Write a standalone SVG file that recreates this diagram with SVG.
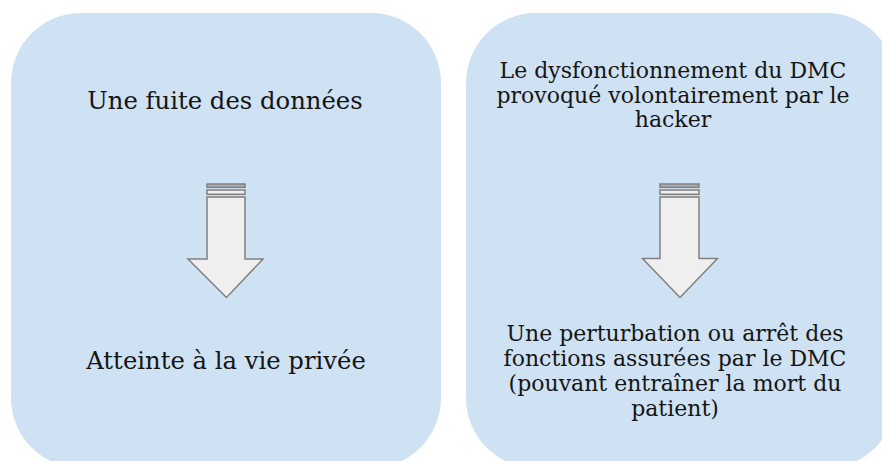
<svg xmlns="http://www.w3.org/2000/svg" width="882" height="461" viewBox="0 0 882 461">
<style>
.box{fill:#cfe2f3;stroke:none}
.t{font-family:"DejaVu Serif","Liberation Serif",serif;font-size:22px;fill:#151515;text-anchor:middle}
.big{font-size:24.3px}
.arr{fill:#efefef;stroke:#808080;stroke-width:1.5;stroke-linejoin:miter}
.s1{fill:#b0b0b0;stroke:#808080;stroke-width:1.5}
</style>
<rect width="882" height="461" fill="#ffffff"/>
<g id="left-box">
<rect class="box" x="11" y="13" width="430" height="455" rx="70" ry="70"/>
<text class="t big" x="225" y="109">Une fuite des données</text>
<text class="t big" x="226" y="369">Atteinte à la vie privée</text>
</g>
<g id="right-box">
<rect class="box" x="466" y="13" width="430" height="455" rx="70" ry="70"/>
<text class="t" x="673" y="78">Le dysfonctionnement du DMC</text>
<text class="t" x="673" y="103">provoqué volontairement par le</text>
<text class="t" x="673" y="127">hacker</text>
<text class="t" x="675" y="341">Une perturbation ou arrêt des</text>
<text class="t" x="675" y="366">fonctions assurées par le DMC</text>
<text class="t" x="675" y="391">(pouvant entraîner la mort du</text>
<text class="t" x="675" y="416">patient)</text>
</g>
<g id="connectors">
<g id="arrow-left">
<rect class="s1" x="207" y="184" width="38" height="3.3"/>
<rect class="arr" x="207" y="190" width="38" height="4.3"/>
<polygon class="arr" points="207,197 245,197 245,259 263,259 226.5,297.5 188,259 207,259"/>
</g>
<g id="arrow-right">
<rect class="s1" x="660" y="184" width="39" height="3.3"/>
<rect class="arr" x="660" y="190" width="39" height="4.3"/>
<polygon class="arr" points="660,197 699,197 699,258.5 717.5,258.5 680,297.5 642.5,258.5 660,258.5"/>
</g>
</g>
</svg>
